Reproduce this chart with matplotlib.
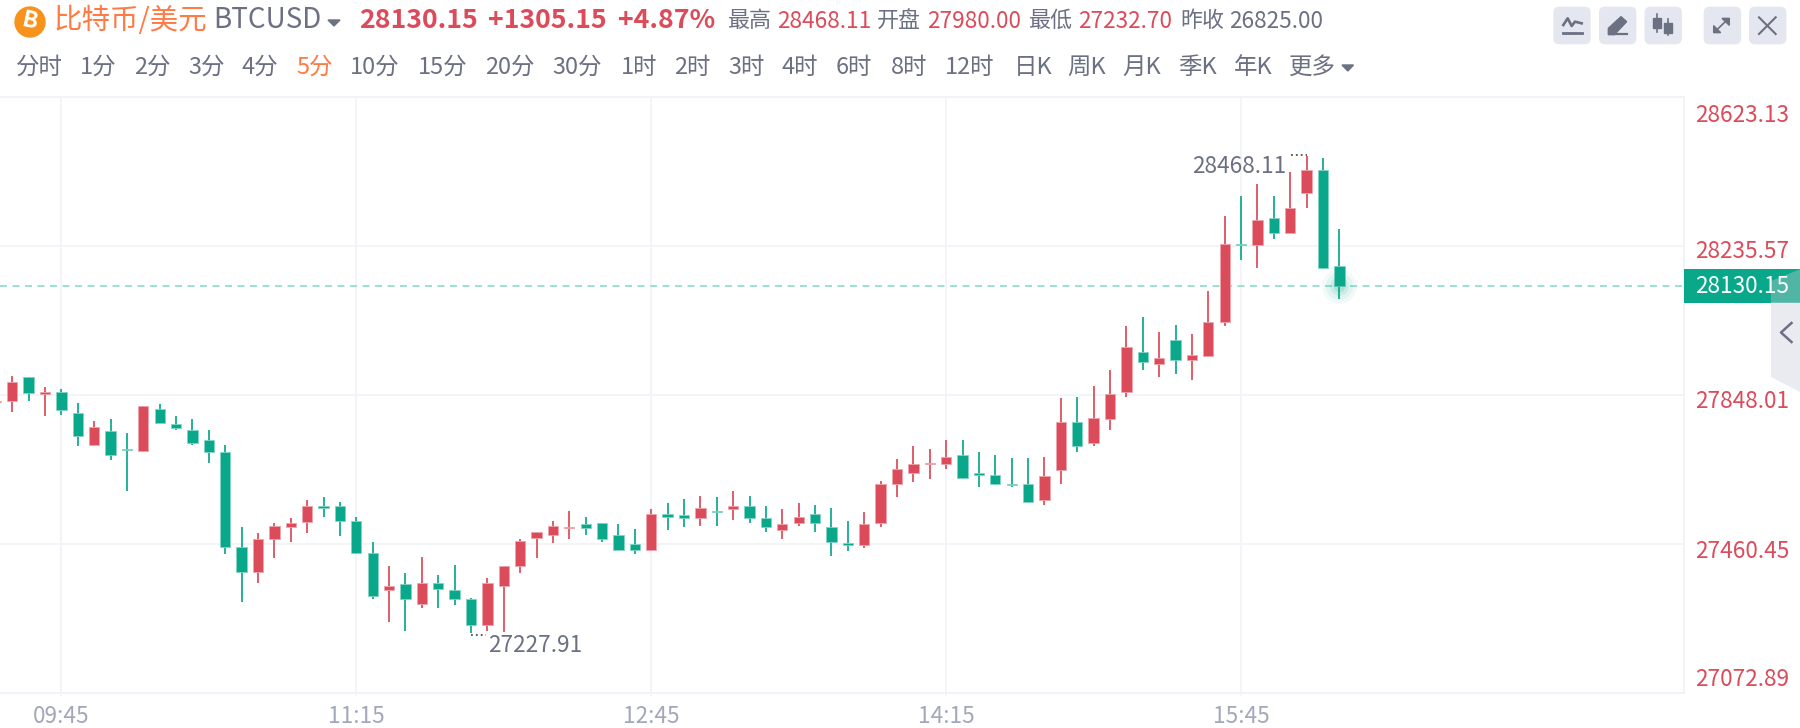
import matplotlib
matplotlib.use("Agg")
import matplotlib.pyplot as plt
from matplotlib.patches import Circle, FancyBboxPatch, Polygon, Rectangle
from matplotlib.transforms import ScaledTranslation

plt.rcParams['font.family'] = ['Noto Sans CJK SC', 'DejaVu Sans']

# 5 minute candles, first one is only just on screen at the left edge
opens = [27829, 27832, 27893, 27851, 27854, 27800, 27718, 27753, 27707, 27702, 27811, 27772,
         27756, 27729, 27698, 27452, 27387, 27473, 27504, 27516, 27558, 27559, 27519, 27437,
         27340, 27355, 27304, 27358, 27339, 27316, 27250, 27351, 27402, 27476, 27484, 27500,
         27511, 27515, 27483, 27460, 27445, 27539, 27535, 27527, 27546, 27551, 27558, 27526,
         27496, 27515, 27539, 27504, 27461, 27457, 27515, 27617, 27644, 27668, 27668, 27690,
         27644, 27640, 27617, 27617, 27574, 27652, 27776, 27722, 27785, 27855, 27960, 27929,
         27991, 27937, 27949, 28038, 28241, 28237, 28307, 28269, 28373, 28432, 28182]
highs = [27836, 27897, 27893, 27869, 27862, 27827, 27780, 27784, 27748, 27819, 27823, 27793,
         27784, 27757, 27718, 27503, 27487, 27515, 27526, 27574, 27582, 27570, 27531, 27465,
         27402, 27383, 27425, 27378, 27405, 27320, 27370, 27402, 27472, 27492, 27519, 27546,
         27531, 27515, 27511, 27499, 27551, 27566, 27578, 27585, 27582, 27597, 27585, 27558,
         27551, 27566, 27562, 27554, 27519, 27543, 27624, 27682, 27715, 27707, 27730, 27730,
         27699, 27691, 27683, 27683, 27687, 27839, 27843, 27870, 27913, 28026, 28049, 28010,
         28030, 28007, 28119, 28314, 28366, 28397, 28366, 28428, 28468.11, 28463, 28280]
lows = [27824, 27804, 27832, 27793, 27796, 27715, 27715, 27679, 27598, 27699, 27774, 27757,
        27718, 27671, 27434, 27308, 27359, 27422, 27464, 27487, 27531, 27480, 27434, 27316,
        27258, 27234, 27293, 27293, 27301, 27227.91, 27234, 27231, 27383, 27422, 27461, 27473,
        27484, 27465, 27445, 27434, 27441, 27496, 27504, 27507, 27507, 27523, 27515, 27492,
        27473, 27507, 27492, 27429, 27441, 27449, 27504, 27582, 27621, 27628, 27656, 27629,
        27609, 27613, 27609, 27566, 27562, 27617, 27699, 27715, 27757, 27843, 27913, 27894,
        27902, 27885, 27945, 28027, 28198, 28178, 28253, 28269, 28334, 28175, 28097]
closes = [27831, 27881, 27852, 27855, 27808, 27741, 27765, 27691, 27703, 27819, 27774, 27761,
          27722, 27699, 27453, 27387, 27472, 27506, 27514, 27558, 27554, 27519, 27437, 27324,
          27350, 27317, 27358, 27343, 27317, 27250, 27358, 27402, 27468, 27492, 27507, 27503,
          27500, 27473, 27445, 27445, 27538, 27531, 27526, 27554, 27543, 27558, 27527, 27504,
          27512, 27531, 27515, 27465, 27457, 27512, 27617, 27656, 27668, 27671, 27687, 27632,
          27640, 27617, 27613, 27570, 27636, 27776, 27715, 27788, 27851, 27971, 27933, 27944,
          27937, 27952, 28038, 28241, 28237, 28303, 28269, 28334, 28432, 28178, 28130.15]

price_ticks = [28623.13, 28235.57, 27848.01, 27460.45, 27072.89]
time_ticks = [3, 21, 39, 57, 75]
time_labels = ['09:45', '11:15', '12:45', '14:15', '15:45']
last_price = 28130.15

periods = ['分时', '1分', '2分', '3分', '4分', '5分', '10分', '15分', '20分', '30分', '1时', '2时',
           '3时', '4时', '6时', '8时', '12时', '日K', '周K', '月K', '季K', '年K', '更多']
stats_names = ['最高', '开盘', '最低', '昨收']
stats_values = ['28468.11', '27980.00', '27232.70', '26825.00']

RED = '#dc4b5a'
GREEN = '#0aa88b'
ORANGE = '#ff7a45'
GREY = '#6b7083'
GRID = '#f2f3f8'
BUTTON = '#e4e7ef'

W, H = 1800, 728
PX = 0.72  # pt per pixel at dpi 100
NUM = 22.6*PX

fig = plt.figure(figsize=(W/100, H/100), dpi=100, facecolor='white')

#%% chart
ax = fig.add_axes([0, (H-692.7)/H, 1684/W, (692.7-96.7)/H])
ax.set_xlim((0-12.2)/16.385, (1684-12.2)/16.385)
ax.set_ylim(price_ticks[-1], price_ticks[0])

ax.grid(True, color=GRID, linewidth=1.3, zorder=0)
ax.set_axisbelow(True)
ax.spines['left'].set_visible(False)
for s in ['top', 'right', 'bottom']:
    ax.spines[s].set_color(GRID)
    ax.spines[s].set_linewidth(1.4)

idx = list(range(-1, len(opens)-1))
for i, o, h, l, c in zip(idx, opens, highs, lows, closes):
    col = RED if c >= o else GREEN
    edge = '#efa5ad' if c >= o else '#84d3c5'
    ax.vlines(i, l, h, color=col, linewidth=1.25, zorder=3)
    ax.bar(i, abs(c-o), 0.63, bottom=min(o, c), color=col, edgecolor=edge,
           linewidth=0.6, zorder=4)

ax.axhline(last_price, color='#8adccd', linewidth=1.2, linestyle=(0, (4.2, 3.3)), zorder=2)
# glow on the last candle
for s, a in [(620, 0.05), (380, 0.07), (180, 0.10), (70, 0.15)]:
    ax.scatter(idx[-1], last_price, s=s, color=GREEN, alpha=a, linewidths=0, zorder=5)

ax.set_xticks(time_ticks)
ax.set_xticklabels(time_labels, fontsize=NUM, color='#a2a7bb')
ax.tick_params(axis='x', length=2.2, width=1.2, color=GRID, pad=6.5)

ax.yaxis.tick_right()
ax.set_yticks(price_ticks)
ax.set_yticklabels(['%.2f' % p for p in price_ticks], fontsize=NUM, color=RED)
ax.tick_params(axis='y', length=0, pad=7.8)
offsets = [18.3, 6.3, 7.3, 7.3, -12.8]
for lab, off in zip(ax.get_yticklabels(), offsets):
    lab.set_va('center')
    lab.set_transform(lab.get_transform() + ScaledTranslation(0, -off/100, fig.dpi_scale_trans))

ax.annotate('%.2f' % max(highs), (idx[80], max(highs)), xytext=(-20.5, -10), textcoords='offset pixels',
            ha='right', va='center', fontsize=NUM, color=GREY, zorder=6)
ax.annotate('%.2f' % min(lows), (idx[29], min(lows)), xytext=(17, -12), textcoords='offset pixels',
            ha='left', va='center', fontsize=NUM, color=GREY, zorder=6)

#%% everything around the chart, in pixel coords
ui = fig.add_axes([0, 0, 1, 1], zorder=10)
ui.set_xlim(0, W)
ui.set_ylim(H, 0)
ui.axis('off')

ui.plot([1291, 1306.5], [154.5, 154.5], color='#333333', linewidth=1.1, linestyle=(0, (1.2, 2)))
ui.plot([471, 486], [635, 635], color='#333333', linewidth=1.1, linestyle=(0, (1.2, 2)))

# coin icon
ui.add_patch(Circle((30, 22), 15, color='#f7931a'))
ui.text(30, 21.5, 'B', color='white', fontsize=23*PX, fontweight='bold', rotation=-12,
        ha='center', va='center')

ui.text(54, 20.5, '比特币/美元', color=ORANGE, fontsize=28.5*PX, va='center')
ui.text(213, 20.5, 'BTCUSD', color=GREY, fontsize=27.8*PX, va='center')
ui.add_patch(Polygon([[328, 20], [340, 20], [334, 26]], color=GREY))

head_x = [359, 488, 618]
head_txt = ['28130.15', '+1305.15', '+4.87%']
for x, t in zip(head_x, head_txt):
    ui.text(x, 20.5, t, color=RED, fontsize=26.7*PX, fontweight='bold', va='center')

name_x = [728, 876.5, 1029, 1180]
val_x = [777, 927.5, 1078.5, 1229]
val_col = [RED, RED, RED, GREY]
for nx, vx, n, v, c in zip(name_x, val_x, stats_names, stats_values, val_col):
    ui.text(nx, 21, n, color=GREY, fontsize=22*PX, va='center')
    ui.text(vx, 21, v, color=c, fontsize=NUM, va='center')

period_x = [16, 80, 134, 188, 242, 296, 350, 418, 485, 552, 620.5, 674, 728, 782, 836, 891,
            945, 1013.5, 1067.5, 1122.5, 1178, 1233.5, 1289]
for x, t in zip(period_x, periods):
    ui.text(x, 67, t, color=ORANGE if t == '5分' else GREY, fontsize=23.5*PX, va='center')
ui.add_patch(Polygon([[1342, 65], [1353.5, 65], [1347.8, 71]], color=GREY))

# toolbar buttons
for x0 in [1553.3, 1599, 1644.5, 1703.7, 1749]:
    ui.add_patch(FancyBboxPatch((x0+5, 6.7+5), 37.4-10, 37.6-10, boxstyle='round,pad=5,rounding_size=6',
                                facecolor=BUTTON, edgecolor='none'))
def zx(z):
    return 1545 + z/3
def zy(z):
    return z/3
ui.plot([zx(v) for v in [55, 68, 80, 90, 110]], [zy(v) for v in [75, 55, 78, 65, 70]], color=GREY, linewidth=1.9)
ui.plot([zx(55), zx(110)], [zy(100), zy(100)], color=GREY, linewidth=2.0)
ui.add_patch(Polygon([[zx(190), zy(104)], [zx(190), zy(85)], [zx(228), zy(50)], [zx(245), zy(65)], [zx(208), zy(104)]], color=GREY))
ui.plot([zx(208), zx(245)], [zy(102), zy(102)], color=GREY, linewidth=1.6)
ui.plot([zx(336), zx(336)], [zy(42), zy(96)], color=GREY, linewidth=1.2)
ui.plot([zx(370), zx(370)], [zy(58), zy(106)], color=GREY, linewidth=1.2)
ui.add_patch(Rectangle((zx(325), zy(53)), 22/3, 32/3, color=GREY))
ui.add_patch(Rectangle((zx(358), zy(68)), 23/3, 30/3, color=GREY))
ui.plot([zx(515), zx(543)], [zy(90), zy(63)], color=GREY, linewidth=1.2)
ui.add_patch(Polygon([[zx(553), zy(55)], [zx(531), zy(55)], [zx(553), zy(76)]], color=GREY))
ui.add_patch(Polygon([[zx(506), zy(98)], [zx(506), zy(77)], [zx(527), zy(98)]], color=GREY))
ui.plot([zx(642), zx(692)], [zy(52), zy(102)], color=GREY, linewidth=1.5)
ui.plot([zx(642), zx(692)], [zy(102), zy(52)], color=GREY, linewidth=1.5)

# current price tag and the side tab over it
ui.add_patch(Rectangle((1684, 269.3), 116, 33.4, color=GREEN, linewidth=0))
ui.add_patch(Polygon([[1771, 281], [1800, 269.3], [1800, 302.7], [1771, 302.7]], color='#50b5a4', linewidth=0))
ui.add_patch(Polygon([[1771, 302.7], [1800, 302.7], [1800, 392], [1771, 377]], color='#eaebf0', linewidth=0))
ui.plot([1791.5, 1781, 1791.5], [323, 332.5, 342], color=GREY, linewidth=1.8)
ui.text(1695, 286.5, '%.2f' % last_price, color='white', fontsize=NUM, va='center')

fig.savefig('out.png', dpi=100)
